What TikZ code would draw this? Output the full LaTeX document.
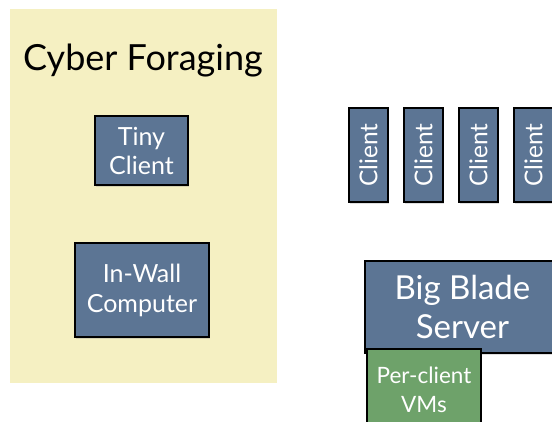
\documentclass[tikz,border=0pt]{standalone}
\usepackage{fontspec}
\setsansfont{Lato}
\usepackage{xcolor}
\definecolor{pad}{HTML}{F5F0C2}
\definecolor{slate}{HTML}{5C7594}
\definecolor{leaf}{HTML}{6EA26A}
\usepackage{tikz}
\usetikzlibrary{positioning,shadows}

\begin{document}
\begin{tikzpicture}[
  x=1pt,y=-1pt,
  font=\sffamily,
  box/.style={draw=black,line width=1.5pt,fill=slate,text=white,align=center,
    inner sep=2pt,drop shadow={opacity=0.25,shadow xshift=1pt,shadow yshift=-2pt}},
  client/.style={box,rotate=90,minimum width=94pt,minimum height=39pt,
    font=\sffamily\fontsize{24.5}{28}\selectfont},
  vmbox/.style={box,fill=leaf,minimum width=114pt,minimum height=82pt,
    font=\sffamily\fontsize{22.5}{29}\selectfont}
]
\useasboundingbox (0,0) rectangle (552,422);
\clip (0,0) rectangle (552,422);

% Cyber foraging panel
\fill[pad] (10,9) rectangle (277,383);
\node[anchor=base,font=\sffamily\fontsize{36}{40}\selectfont] (title) at (143,71) {Cyber Foraging};
\node[box,minimum width=93pt,minimum height=69pt,font=\sffamily\fontsize{25}{29}\selectfont]
  (tiny) at (141.5,150.5) {Tiny\\Client};
\node[box,minimum width=134pt,minimum height=94pt,font=\sffamily\fontsize{25}{30}\selectfont]
  (wall) at (142,290) {In-Wall\\Computer};

% Thin clients on the right
\foreach \i in {0,...,3}
  \node[client] (c\i) at ({368.5+55*\i},155) {Client};

% Server with its VMs
\node[box,minimum width=195pt,minimum height=92pt,font=\sffamily\fontsize{33}{39}\selectfont]
  (blade) at (462.5,307) {Big Blade\\Server};
\node[vmbox] (vms) at (424,390) {Per-client\\VMs};

\end{tikzpicture}
\end{document}
